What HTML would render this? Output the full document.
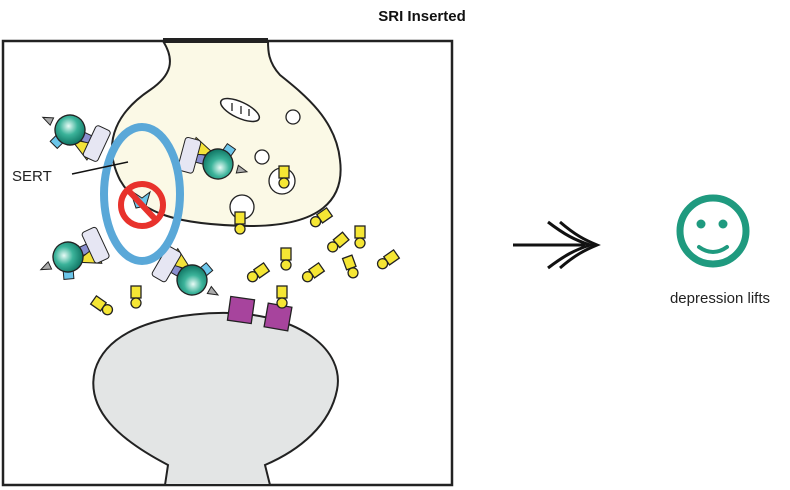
<!DOCTYPE html>
<html><head><meta charset="utf-8"><style>
html,body{margin:0;padding:0;background:#fff;width:790px;height:490px;overflow:hidden}
svg{display:block}
text{font-family:"Liberation Sans",Arial,sans-serif}
</style></head><body>
<svg width="790" height="490" viewBox="0 0 790 490" xmlns="http://www.w3.org/2000/svg">
<defs>
<radialGradient id="tb" cx="0.4" cy="0.4" r="0.6"><stop offset="0" stop-color="#e8fbf6"/><stop offset="0.5" stop-color="#3bb39a"/><stop offset="1" stop-color="#137a68"/></radialGradient>
<g id="ser"><rect x="-5" y="-14" width="10" height="12" fill="#f5e634" stroke="#222" stroke-width="1.3"/><circle cx="0" cy="3" r="5" fill="#f5e634" stroke="#222" stroke-width="1.3"/></g>
<g id="tr">
<polygon points="-20,-4 -30,0 -20,4" fill="#aaa" stroke="#222"/>
<rect x="-6" y="12" width="10" height="10" fill="#6cc6ea" stroke="#222" transform="rotate(20)"/>
<rect x="0" y="-4" width="28" height="9" fill="#8a8fd0" stroke="#222"/>
<polygon points="5,8 30,2 28,20" fill="#f3e23a" stroke="#222"/>
<rect x="22" y="-16" width="16" height="34" fill="#e6e6f3" stroke="#222" rx="3"/>
<circle cx="0" cy="0" r="15" fill="url(#tb)" stroke="#222" stroke-width="1.3"/>
</g>
</defs>
<text x="422" y="21" font-size="15" font-weight="bold" text-anchor="middle" fill="#111">SRI Inserted</text>
<rect x="3" y="41" width="449" height="444" fill="#fff" stroke="#222" stroke-width="2.5"/>
<path d="M163,41 C175,60 172,75 150,90 C120,110 100,140 120,180 C140,215 180,225 250,226 C320,226 345,200 340,160 C336,120 305,95 280,75 C268,62 268,50 268,41 Z" fill="#fbf9e6" stroke="#222" stroke-width="2"/>
<rect x="163" y="38" width="105" height="5" fill="#222"/>
<ellipse cx="240" cy="110" rx="21" ry="8" fill="#fff" stroke="#222" stroke-width="1.5" transform="rotate(25 240 110)"/>
<path d="M232,103 v8 M241,106 v8 M249,109 v7" stroke="#222" stroke-width="1.3"/>
<circle cx="293" cy="117" r="7" fill="#fff" stroke="#222" stroke-width="1.3"/>
<circle cx="262" cy="157" r="7" fill="#fff" stroke="#222" stroke-width="1.3"/>
<circle cx="282" cy="181" r="13" fill="#fff" stroke="#222" stroke-width="1.3"/>
<use href="#ser" x="284" y="180"/>
<circle cx="242" cy="207" r="12" fill="#fff" stroke="#222" stroke-width="1.3"/>
<use href="#ser" x="240" y="226"/>
<path d="M165,485 L168,465 C120,440 85,410 95,370 C110,320 190,312 230,313 C300,315 345,350 337,390 C330,425 300,450 265,465 L270,485 Z" fill="#e3e5e5" stroke="#222" stroke-width="2"/>
<rect x="229" y="298" width="24" height="24" fill="#a7449d" stroke="#222" stroke-width="1.3" transform="rotate(8 241 310)"/>
<rect x="266" y="305" width="24" height="24" fill="#a7449d" stroke="#222" stroke-width="1.3" transform="rotate(10 278 317)"/>
<use href="#ser" x="282" y="300"/>
<use href="#ser" x="318" y="220" transform="rotate(55 318 220)"/>
<use href="#ser" x="335" y="245" transform="rotate(50 335 245)"/>
<use href="#ser" x="360" y="240"/>
<use href="#ser" x="286" y="262"/>
<use href="#ser" x="255" y="275" transform="rotate(55 255 275)"/>
<use href="#ser" x="310" y="275" transform="rotate(55 310 275)"/>
<use href="#ser" x="352" y="270" transform="rotate(-20 352 270)"/>
<use href="#ser" x="385" y="262" transform="rotate(55 385 262)"/>
<use href="#ser" x="136" y="300"/>
<use href="#ser" x="105" y="308" transform="rotate(-55 105 308)"/>
<use href="#tr" transform="translate(70,130) rotate(25)"/>
<use href="#tr" transform="translate(218,164) rotate(195)"/>
<use href="#tr" transform="translate(68,257) rotate(-25)"/>
<use href="#tr" transform="translate(192,280) rotate(-150)"/>
<ellipse cx="142" cy="194" rx="38" ry="67" fill="none" stroke="#5aa8d8" stroke-width="8"/>
<path d="M130,190 l12,8 l8,-6 l-4,14 l-10,2 z" fill="#6cc6ea" stroke="#222"/>
<circle cx="142" cy="205" r="21" fill="none" stroke="#e8322c" stroke-width="6"/>
<line x1="128" y1="190" x2="156" y2="220" stroke="#e8322c" stroke-width="6"/>
<line x1="72" y1="174" x2="128" y2="162" stroke="#111" stroke-width="1.5"/>
<text x="12" y="181" font-size="15" fill="#222">SERT</text>
<path d="M513,245 H585" stroke="#111" stroke-width="3" fill="none"/>
<path d="M548,222 C565,235 575,240 590,245 C575,250 565,255 548,268" stroke="#111" stroke-width="3" fill="none"/>
<path d="M560,222 C575,235 585,240 597,245 C585,250 575,255 560,268" stroke="#111" stroke-width="3" fill="none"/>
<circle cx="713" cy="231" r="33" fill="none" stroke="#1f9a7f" stroke-width="7"/>
<circle cx="701" cy="224" r="4.5" fill="#1f9a7f"/>
<circle cx="723" cy="224" r="4.5" fill="#1f9a7f"/>
<path d="M699,247 Q713,257 727,247" stroke="#1f9a7f" stroke-width="4" fill="none" stroke-linecap="round"/>
<text x="720" y="303" font-size="15" text-anchor="middle" fill="#222">depression lifts</text>
</svg>
</body></html>
